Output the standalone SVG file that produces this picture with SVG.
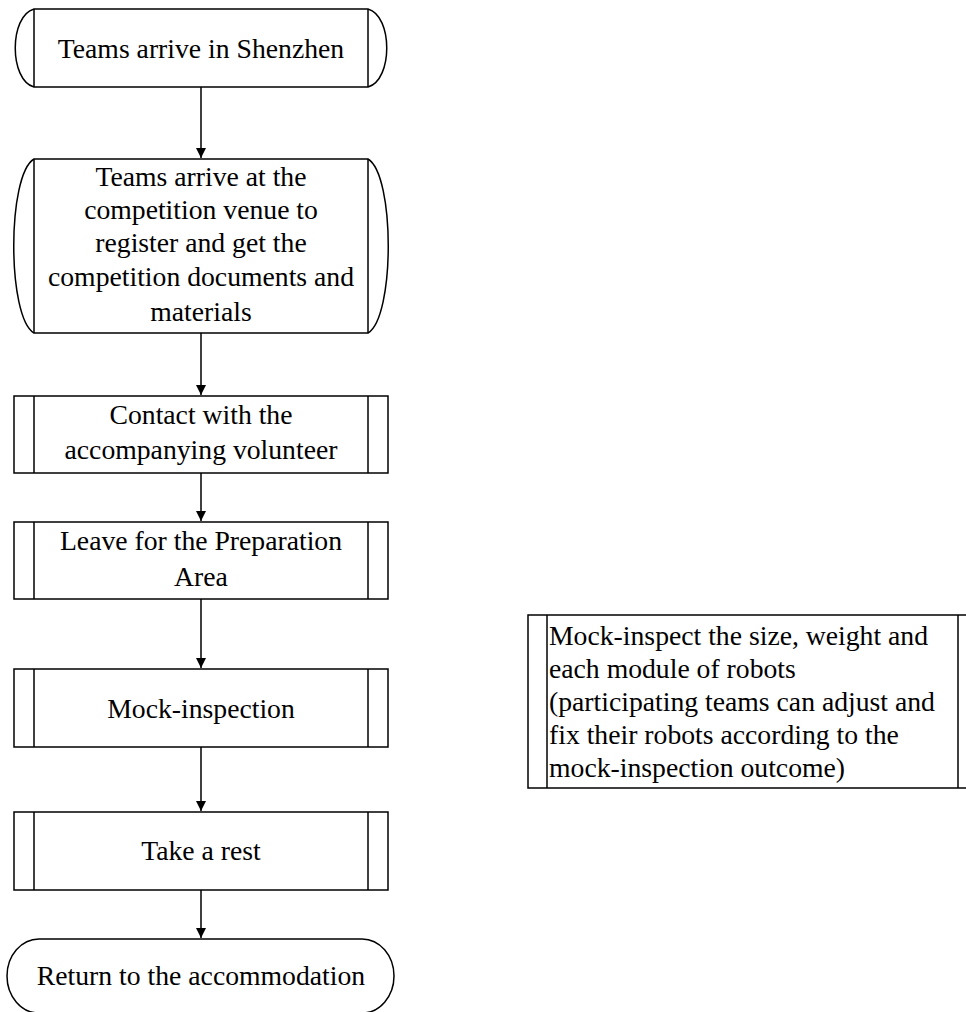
<svg xmlns="http://www.w3.org/2000/svg" width="966" height="1012" viewBox="0 0 966 1012">
<style>
.s{fill:#fff;stroke:#000;stroke-width:1.5}
.l{fill:none;stroke:#000;stroke-width:1.5}
.t{font-family:"Liberation Serif","Times New Roman",serif;font-size:27.7px;fill:#000;text-anchor:middle}
.tl{font-family:"Liberation Serif","Times New Roman",serif;font-size:27.7px;fill:#000;text-anchor:start}
.c{fill:none;stroke:#000;stroke-width:1.5}
</style>
<defs>
<marker id="ah" viewBox="0 0 10 10" refX="10" refY="5" markerWidth="10" markerHeight="10" markerUnits="userSpaceOnUse" orient="auto">
<path d="M0,0 L10,5 L0,10 Z" fill="#000"/>
</marker>
</defs>
<g id="connectors">
<line class="c" x1="201" y1="87" x2="201" y2="158" marker-end="url(#ah)"/>
<line class="c" x1="201" y1="333" x2="201" y2="395" marker-end="url(#ah)"/>
<line class="c" x1="201" y1="473" x2="201" y2="521" marker-end="url(#ah)"/>
<line class="c" x1="201" y1="599" x2="201" y2="668" marker-end="url(#ah)"/>
<line class="c" x1="201" y1="747" x2="201" y2="811" marker-end="url(#ah)"/>
<line class="c" x1="201" y1="890" x2="201" y2="938" marker-end="url(#ah)"/>
</g>
<g id="n1">
<path class="s" d="M34,9 L368,9 C393,16 393,80 368,87 L34,87 C9,80 9,16 34,9 Z"/>
<line class="l" x1="34" y1="9" x2="34" y2="87"/>
<line class="l" x1="368" y1="9" x2="368" y2="87"/>
<text class="t" x="201" y="58">Teams arrive in Shenzhen</text>
</g>
<g id="n2">
<path class="s" d="M34,159 L368,159 C395,175 395,317 368,333 L34,333 C7,317 7,175 34,159 Z"/>
<line class="l" x1="34" y1="159" x2="34" y2="333"/>
<line class="l" x1="368" y1="159" x2="368" y2="333"/>
<text class="t" x="201" y="186">Teams arrive at the</text>
<text class="t" x="201" y="219">competition venue to</text>
<text class="t" x="201" y="252">register and get the</text>
<text class="t" x="201" y="286">competition documents and</text>
<text class="t" x="201" y="321">materials</text>
</g>
<g id="n3">
<rect class="s" x="14" y="396" width="374" height="77"/>
<line class="l" x1="34" y1="396" x2="34" y2="473"/>
<line class="l" x1="368" y1="396" x2="368" y2="473"/>
<text class="t" x="201" y="424">Contact with the</text>
<text class="t" x="201" y="459">accompanying volunteer</text>
</g>
<g id="n4">
<rect class="s" x="14" y="522" width="374" height="77"/>
<line class="l" x1="34" y1="522" x2="34" y2="599"/>
<line class="l" x1="368" y1="522" x2="368" y2="599"/>
<text class="t" x="201" y="550">Leave for the Preparation</text>
<text class="t" x="201" y="586">Area</text>
</g>
<g id="n5">
<rect class="s" x="14" y="669" width="374" height="78"/>
<line class="l" x1="34" y1="669" x2="34" y2="747"/>
<line class="l" x1="368" y1="669" x2="368" y2="747"/>
<text class="t" x="201" y="718">Mock-inspection</text>
</g>
<g id="n6">
<rect class="s" x="14" y="812" width="374" height="78"/>
<line class="l" x1="34" y1="812" x2="34" y2="890"/>
<line class="l" x1="368" y1="812" x2="368" y2="890"/>
<text class="t" x="201" y="860">Take a rest</text>
</g>
<g id="n7">
<rect class="s" x="7" y="939" width="387" height="74" rx="32" ry="37"/>
<text class="t" x="201" y="985">Return to the accommodation</text>
</g>
<g id="n8">
<rect class="s" x="528" y="615" width="450" height="173"/>
<line class="l" x1="547" y1="615" x2="547" y2="788"/>
<line class="l" x1="958" y1="615" x2="958" y2="788"/>
<text class="tl" x="549" y="645">Mock-inspect the size, weight and</text>
<text class="tl" x="549" y="678">each module of robots</text>
<text class="tl" x="549" y="711">(participating teams can adjust and</text>
<text class="tl" x="549" y="744">fix their robots according to the</text>
<text class="tl" x="549" y="777">mock-inspection outcome)</text>
</g>
</svg>
